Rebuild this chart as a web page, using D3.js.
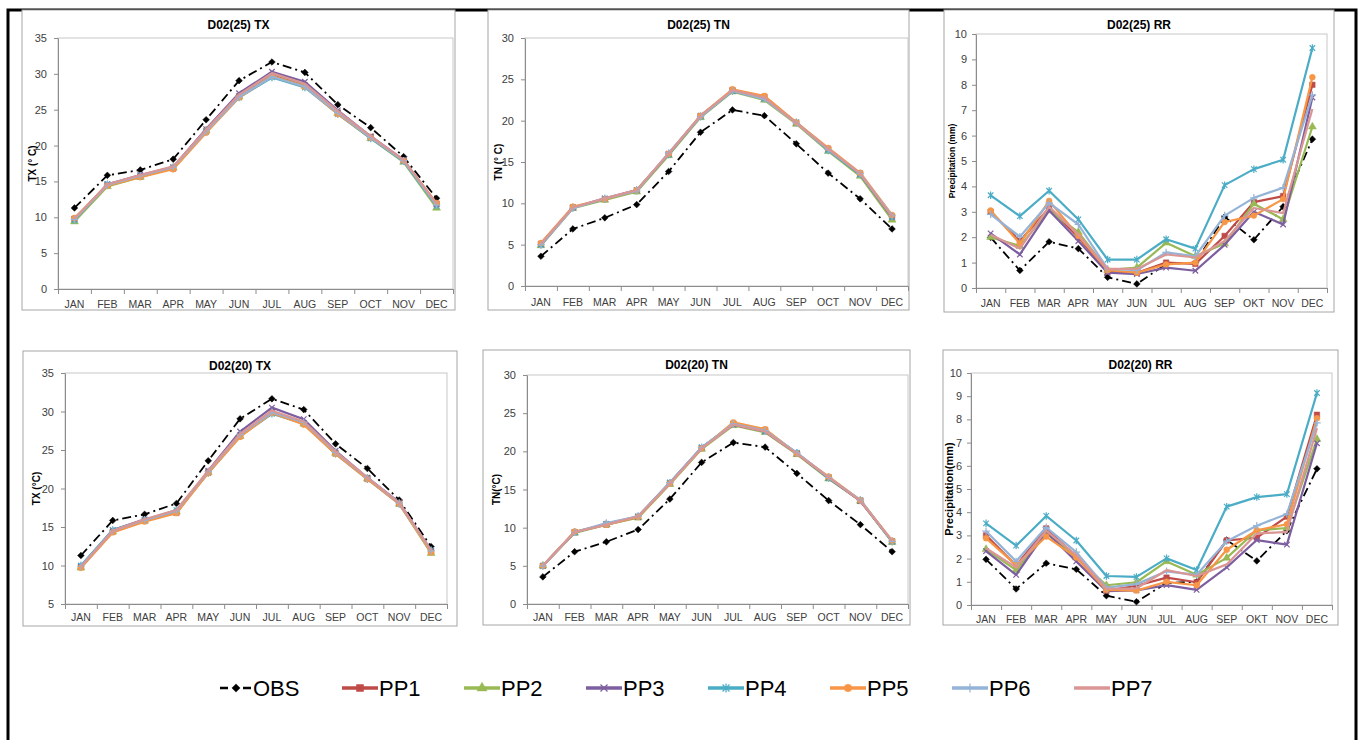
<!DOCTYPE html>
<html>
<head>
  <meta charset='utf-8'>
  <title>D02 TX / TN / RR</title>
  <script src="https://cdn.jsdelivr.net/npm/d3@7"></script>
  <style>
    body { margin: 0; background: #fff; }
    svg text { font-family: 'Liberation Sans', Arial, sans-serif; }
  </style>
</head>
<body>
<svg width="1360" height="740"></svg>

<script>

  // categories
  const months   = ['JAN','FEB','MAR','APR','MAY','JUN','JUL','AUG','SEP','OCT','NOV','DEC'];
  const monthsRR = ['JAN','FEB','MAR','APR','MAY','JUN','JUL','AUG','SEP','OKT','NOV','DEC'];

  const seriesNames  = ['OBS','PP1','PP2','PP3','PP4','PP5','PP6','PP7'];
  const seriesColors = ['#000000','#BE4B48','#98B954','#7D5FA0','#4BACC6','#F79646','#95B3D7','#DA9694'];
  const seriesMarks  = ['diamond','square','triangle','cross','star','circle','plus','none'];

  // values, one row per series (OBS, PP1..PP7)
  const tx25 = [
    [11.3,15.85,16.6,18.1,23.6,29.05,31.65,30.2,25.7,22.5,18.45,12.65],
    [9.8,14.5,15.7,16.8,22.0,26.9,29.8,28.4,24.6,21.2,17.9,11.9],
    [9.4,14.3,15.6,16.9,22.1,26.8,29.7,28.3,24.5,21.0,17.7,11.3],
    [9.7,14.6,15.9,17.0,22.3,27.3,30.3,28.9,24.9,21.3,18.0,11.8],
    [9.6,14.6,15.7,16.9,21.9,26.7,29.5,28.1,24.4,21.0,17.8,11.6],
    [9.9,14.4,15.6,16.7,21.8,26.7,29.7,28.2,24.4,21.1,17.9,12.0],
    [9.7,14.5,15.8,17.0,22.0,26.8,29.6,28.2,24.6,21.1,17.9,11.7],
    [9.8,14.6,15.9,17.1,22.2,27.1,30.1,28.6,24.8,21.3,18.0,11.9]
  ];

  const tn25 = [
    [3.6,6.9,8.25,9.85,13.85,18.6,21.3,20.6,17.2,13.65,10.55,6.9],
    [5.1,9.5,10.5,11.5,15.9,20.5,23.7,22.9,19.7,16.6,13.6,8.4],
    [4.9,9.4,10.4,11.4,15.8,20.4,23.5,22.5,19.6,16.3,13.3,8.0],
    [5.0,9.5,10.6,11.6,16.0,20.6,23.6,22.7,19.8,16.5,13.5,8.3],
    [5.0,9.5,10.5,11.6,15.9,20.5,23.6,22.7,19.8,16.4,13.5,8.4],
    [5.2,9.6,10.5,11.6,16.0,20.6,23.8,23.0,19.8,16.7,13.7,8.6],
    [5.0,9.4,10.6,11.5,16.1,20.5,23.6,22.6,19.7,16.5,13.6,8.5],
    [5.1,9.5,10.6,11.6,16.0,20.6,23.7,22.8,19.7,16.6,13.6,8.4]
  ];

  const rr25 = [
    [1.99,0.69,1.82,1.55,0.42,0.16,0.95,1.0,2.8,1.9,3.2,5.86],
    [3.0,1.85,3.15,2.0,0.65,0.6,1.0,0.95,2.05,3.38,3.62,8.0],
    [2.0,1.65,3.05,2.2,0.7,0.8,1.78,1.25,1.75,3.32,2.7,6.35],
    [2.15,1.32,3.05,1.85,0.6,0.55,0.8,0.68,1.7,3.0,2.5,7.5],
    [3.65,2.83,3.83,2.7,1.12,1.12,1.92,1.55,4.05,4.68,5.05,9.45],
    [3.05,1.75,3.43,2.05,0.7,0.6,0.93,1.0,2.6,2.85,3.5,8.3],
    [2.9,2.02,3.35,2.5,0.75,0.7,1.4,1.25,2.85,3.55,3.95,7.6],
    [2.1,1.55,3.2,2.1,0.75,0.75,1.32,1.2,1.85,3.15,2.95,7.05]
  ];

  const tx20 = [
    [11.3,15.85,16.65,18.05,23.6,29.05,31.65,30.25,25.8,22.6,18.5,12.45],
    [9.8,14.4,15.8,16.9,22.1,26.9,29.9,28.5,24.6,21.3,18.1,11.9],
    [9.7,14.4,15.8,17.0,22.1,26.8,29.8,28.4,24.6,21.3,18.0,11.6],
    [9.9,14.6,16.0,16.8,22.3,27.4,30.5,29.0,24.9,21.4,18.2,11.9],
    [10.0,14.6,15.9,17.2,22.0,26.8,29.7,28.4,24.5,21.2,18.0,12.0],
    [9.7,14.3,15.7,16.8,22.0,26.7,29.8,28.3,24.5,21.2,18.0,11.7],
    [9.9,14.5,15.9,17.1,22.2,27.0,29.9,28.6,24.7,21.4,18.1,11.9],
    [9.8,14.5,16.0,17.2,22.3,27.1,30.1,28.7,24.8,21.4,18.1,12.0]
  ];

  const tn20 = [
    [3.55,6.85,8.15,9.75,13.75,18.55,21.15,20.55,17.1,13.55,10.4,6.85],
    [5.0,9.4,10.4,11.4,15.8,20.4,23.6,22.8,19.7,16.6,13.5,8.2],
    [5.0,9.3,10.4,11.3,15.7,20.3,23.4,22.5,19.6,16.4,13.5,8.1],
    [5.0,9.4,10.5,11.4,15.9,20.5,23.5,22.6,19.7,16.5,13.5,8.2],
    [5.0,9.4,10.5,11.5,15.9,20.5,23.6,22.7,19.8,16.5,13.6,8.2],
    [5.0,9.5,10.4,11.4,15.8,20.4,23.8,22.9,19.7,16.7,13.6,8.3],
    [5.0,9.4,10.6,11.5,15.9,20.5,23.6,22.7,19.8,16.6,13.6,8.2],
    [5.0,9.4,10.4,11.5,15.8,20.4,23.5,22.6,19.7,16.6,13.5,8.3]
  ];

  const rr20 = [
    [1.97,0.69,1.8,1.54,0.4,0.14,0.95,1.0,2.8,1.9,3.2,5.87],
    [3.0,1.7,3.3,2.08,0.62,0.83,1.18,0.98,2.78,2.9,3.81,8.2],
    [2.4,1.5,3.1,2.05,0.85,0.98,1.88,1.3,2.03,3.22,3.32,7.15],
    [2.32,1.3,3.15,1.88,0.6,0.63,0.86,0.65,1.62,2.8,2.6,6.97],
    [3.52,2.56,3.84,2.78,1.25,1.21,2.01,1.51,4.24,4.65,4.78,9.14],
    [2.88,1.72,2.95,2.05,0.65,0.62,1.0,0.85,2.38,3.22,3.48,8.05],
    [3.18,1.88,3.35,2.28,0.75,0.9,1.45,1.3,2.75,3.42,3.92,7.85],
    [2.45,1.62,3.2,2.15,0.7,0.72,1.5,1.25,1.75,3.08,3.15,7.62]
  ];

  // layout for each panel: box = outer chart frame, plot = plot area [x0,y0,x1,y1]
  const panels = [
    {title:'D02(25) TX', yLabel:'TX (° C)', data:tx25, cats:months, yDomain:[0,35], yStep:5,
     box:[22,10,455,310], plot:[58,38,453,289], labelY:308, yLabelX:32, yLabelSize:10, pad:7},
    {title:'D02(25) TN', yLabel:'TN (° C)', data:tn25, cats:months, yDomain:[0,30], yStep:5,
     box:[488,10,909,310], plot:[525,38,908,286], labelY:306, yLabelX:498, yLabelSize:10, pad:7},
    {title:'D02(25) RR', yLabel:'Precipitation (mm)', data:rr25, cats:monthsRR, yDomain:[0,10], yStep:1,
     box:[944,10,1334,312], plot:[976,34,1327,288], labelY:307, yLabelX:952, yLabelSize:8.5, pad:5},
    {title:'D02(20) TX', yLabel:'TX (°C)', data:tx20, cats:months, yDomain:[5,35], yStep:5,
     box:[23,351,457,626], plot:[65,373,447,604], labelY:621, yLabelX:36, yLabelSize:10, pad:7},
    {title:'D02(20) TN', yLabel:'TN(°C)', data:tn20, cats:months, yDomain:[0,30], yStep:5,
     box:[483,350,910,625], plot:[527,375,908,604], labelY:621, yLabelX:496, yLabelSize:10, pad:7},
    {title:'D02(20) RR', yLabel:'Precipitation(mm)', data:rr20, cats:monthsRR, yDomain:[0,10], yStep:1,
     box:[943,350,1338,625], plot:[971,373,1332,605], labelY:623, yLabelX:949, yLabelSize:11, pad:5}
  ];

  const svg = d3.select('svg');

  // outer black frame
  svg.append('path')
    .attr('d', 'M8,745 V10 H1356 V745')
    .attr('fill', 'none')
    .attr('stroke', '#000')
    .attr('stroke-width', 3);

  function markerPath(type, s) {
    let h = s/2;
    if (type === 'diamond')  return `M0,${-h-0.6}L${h+0.6},0L0,${h+0.6}L${-h-0.6},0Z`;
    if (type === 'square')   return d3.symbol(d3.symbolSquare, s*s)();
    if (type === 'triangle') return d3.symbol(d3.symbolTriangle, s*s*0.9)();
    if (type === 'circle')   return d3.symbol(d3.symbolCircle, s*s*0.9)();
    if (type === 'cross') return `M${-h},${-h}L${h},${h}M${-h},${h}L${h},${-h}`;
    if (type === 'star')  return `M${-h},${-h}L${h},${h}M${-h},${h}L${h},${-h}M0,${-h-1}V${h+1}`;
    if (type === 'plus')  return `M0,${-h-1}V${h+1}M${-h-1},0H${h+1}`;
    return null;
  }

  function drawMarker(g, type, color, x, y, s) {
    let d = markerPath(type, s);
    if (!d) return;
    let open = (type === 'cross' || type === 'star' || type === 'plus');
    g.append('path')
      .attr('d', d)
      .attr('transform', `translate(${x},${y})`)
      .attr('fill', open ? 'none' : color)
      .attr('stroke', color)
      .attr('stroke-width', open ? 1.2 : 0.5);
  }

  panels.forEach(function(p) {
    let g = svg.append('g');
    let [x0, y0, x1, y1] = p.plot;

    g.append('rect')
      .attr('x', p.box[0]).attr('y', p.box[1])
      .attr('width', p.box[2]-p.box[0]).attr('height', p.box[3]-p.box[1])
      .attr('fill', '#fff').attr('stroke', '#A6A6A6').attr('stroke-width', 1);

    let x = d3.scaleBand().domain(p.cats).range([x0, x1]);
    let xEdge = d3.scaleLinear().domain([0, p.cats.length]).range([x0, x1]);
    let y = d3.scaleLinear().domain(p.yDomain).range([y1, y0]);

    // plot area border
    g.append('rect')
      .attr('x', x0).attr('y', y0).attr('width', x1-x0).attr('height', y1-y0)
      .attr('fill', 'none').attr('stroke', '#C8C8C8');

    // y axis
    let yAxis = g.append('g')
      .attr('transform', `translate(${x0},0)`)
      .call(d3.axisLeft(y)
        .tickValues(d3.range(p.yDomain[0], p.yDomain[1] + 0.001, p.yStep))
        .tickSize(4).tickPadding(p.pad).tickSizeOuter(0));
    yAxis.select('.domain').attr('stroke', '#8C8C8C');
    yAxis.selectAll('.tick line').attr('stroke', '#8C8C8C');
    yAxis.selectAll('.tick text').attr('fill', '#404040').style('font-size', '11px');

    // x axis: tick marks between categories
    let xTicks = g.append('g')
      .attr('transform', `translate(0,${y1})`)
      .call(d3.axisBottom(xEdge).ticks(p.cats.length).tickFormat('').tickSize(5).tickSizeOuter(0));
    xTicks.select('.domain').attr('stroke', '#8C8C8C');
    xTicks.selectAll('.tick line').attr('stroke', '#8C8C8C');

    // x labels
    g.selectAll('.mlabel')
      .data(p.cats)
      .enter()
      .append('text')
        .attr('x', d => x(d) + x.bandwidth()/2)
        .attr('y', p.labelY)
        .attr('text-anchor', 'middle')
        .attr('fill', '#404040')
        .style('font-size', '10.5px')
        .text(d => d);

    // title
    g.append('text')
      .attr('x', (p.box[0] + p.box[2]) / 2)
      .attr('y', p.box[1] + 19)
      .attr('text-anchor', 'middle')
      .style('font-size', '12px')
      .style('font-weight', 'bold')
      .text(p.title);

    // y label
    g.append('text')
      .attr('transform', `translate(${p.yLabelX},${(y0+y1)/2}) rotate(-90)`)
      .attr('text-anchor', 'middle')
      .attr('dy', '0.35em')
      .style('font-size', p.yLabelSize + 'px')
      .style('font-weight', 'bold')
      .text(p.yLabel);

    // series
    let line = d3.line()
      .x((d, i) => x(p.cats[i]) + x.bandwidth()/2)
      .y(d => y(d));

    p.data.forEach(function(vals, si) {
      let obs = si === 0;
      g.append('path')
        .attr('d', line(vals))
        .attr('fill', 'none')
        .attr('stroke', seriesColors[si])
        .attr('stroke-width', obs ? 1.8 : 2.2)
        .attr('stroke-dasharray', obs ? '9,4,2,4' : null)
        .attr('stroke-linejoin', 'round');
      vals.forEach(function(v, i) {
        drawMarker(g, seriesMarks[si], seriesColors[si],
          x(p.cats[i]) + x.bandwidth()/2, y(v), obs ? 5.5 : 5.5);
      });
    });
  });

  // legend
  let legend = svg.append('g');
  seriesNames.forEach(function(name, i) {
    let lx = 220 + i * 122;
    let ly = 688;
    let obs = i === 0;
    let len = obs ? 32 : 36;
    legend.append('line')
      .attr('x1', lx).attr('x2', lx + len)
      .attr('y1', ly).attr('y2', ly)
      .attr('stroke', seriesColors[i])
      .attr('stroke-width', obs ? 2.5 : 3.5)
      .attr('stroke-dasharray', obs ? '8,6,3,6' : null);
    drawMarker(legend, seriesMarks[i], seriesColors[i], lx + len/2, ly, 7);
    legend.append('text')
      .attr('x', lx + len + 1)
      .attr('y', ly + 8)
      .style('font-size', '22px')
      .attr('fill', '#000')
      .text(name);
  });

</script>
</body>
</html>
